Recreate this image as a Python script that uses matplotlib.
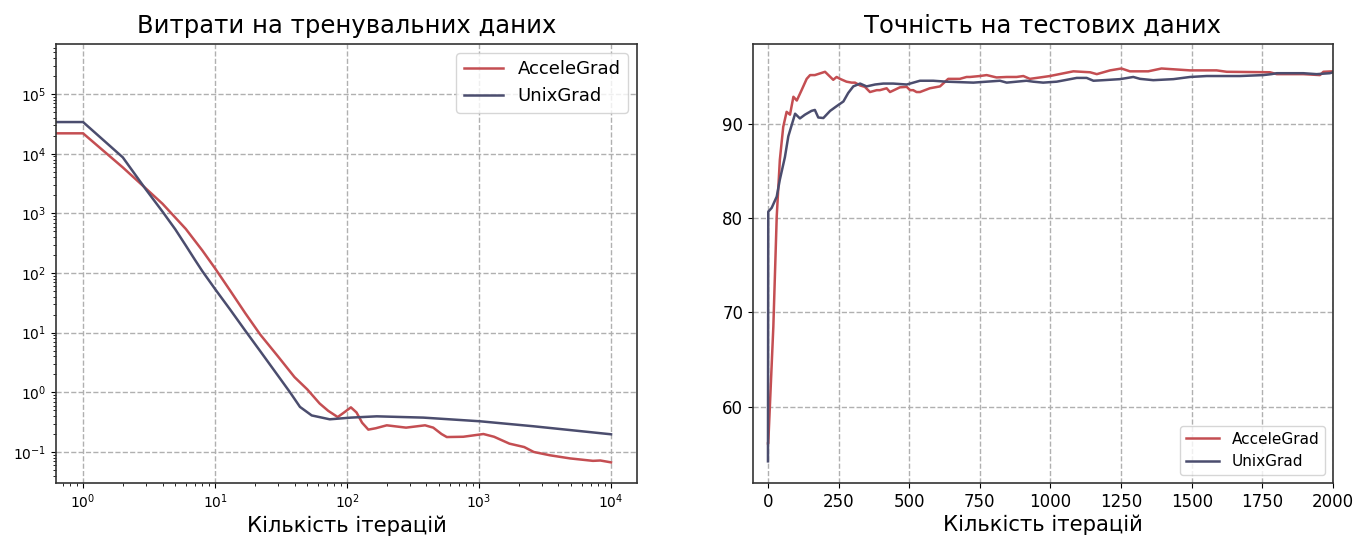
import matplotlib
matplotlib.use("Agg")
import matplotlib.pyplot as plt
from matplotlib.ticker import LogLocator, NullFormatter

plt.rcParams['font.family'] = ['DejaVu Sans']

# ---------------- data ----------------
series_names = ["AcceleGrad", "UnixGrad"]

loss_iter_accele = [0, 1, 2, 3, 4, 5, 6, 8, 10, 13, 17, 22, 30, 40, 50, 62, 72, 85, 95,
                    107, 118, 130, 145, 165, 200, 280, 390, 450, 520, 570, 760, 1080,
                    1300, 1700, 2200, 2600, 3450, 4900, 7300, 8300, 10000]
loss_accele = [2.2e4, 2.2e4, 5.9e3, 2.6e3, 1.45e3, 850, 550, 240, 120, 51, 21, 9.3, 4.0,
               1.8, 1.12, 0.65, 0.49, 0.385, 0.46, 0.56, 0.46, 0.31, 0.237, 0.25, 0.28,
               0.256, 0.28, 0.256, 0.2, 0.178, 0.18, 0.2, 0.18, 0.138, 0.121, 0.1, 0.088,
               0.078, 0.071, 0.072, 0.067]

loss_iter_unix = [0, 1, 2, 3, 4, 5, 6, 7, 8, 10, 13, 17, 22, 30, 37, 44, 54, 74, 107, 168,
                  378, 1020, 2580, 10000]
loss_unix = [3.4e4, 3.4e4, 8.7e3, 2.5e3, 1.07e3, 540, 290, 170, 108, 54, 24.5, 10.7, 4.9,
             1.9, 1.0, 0.57, 0.41, 0.353, 0.377, 0.396, 0.377, 0.327, 0.27, 0.198]

acc_iter_accele = [0, 1, 19, 31, 42, 54, 66, 78, 90, 102, 119, 137, 149, 166, 202, 231, 243,
                   255, 278, 296, 308, 326, 343, 361, 385, 396, 420, 432, 467, 491, 503, 514,
                   526, 538, 573, 609, 638, 679, 703, 715, 750, 774, 809, 845, 880, 904, 927,
                   963, 998, 1081, 1140, 1164, 1211, 1251, 1281, 1346, 1393, 1494, 1588, 1624,
                   1777, 1801, 1895, 1954, 1966, 2000]
acc_accele = [56.1, 56.1, 68.5, 80.2, 86.2, 89.7, 91.3, 91.0, 92.9, 92.5, 93.6, 94.8, 95.2,
              95.2, 95.55, 94.7, 95.0, 94.8, 94.5, 94.4, 94.4, 94.1, 93.95, 93.4, 93.6, 93.6,
              93.8, 93.4, 93.9, 93.95, 93.6, 93.6, 93.4, 93.4, 93.8, 94.0, 94.8, 94.8, 95.0,
              95.0, 95.1, 95.2, 94.95, 95.0, 95.0, 95.1, 94.8, 94.95, 95.1, 95.6, 95.5, 95.3,
              95.7, 95.9, 95.6, 95.6, 95.9, 95.7, 95.7, 95.55, 95.5, 95.3, 95.3, 95.2, 95.55,
              95.6]

acc_iter_unix = [0, 1, 13, 31, 42, 60, 72, 84, 96, 113, 131, 154, 166, 178, 196, 220, 243,
                 267, 284, 302, 326, 349, 379, 408, 443, 491, 503, 538, 585, 632, 727, 821,
                 845, 915, 939, 974, 1022, 1093, 1128, 1152, 1187, 1246, 1293, 1317, 1364,
                 1435, 1494, 1553, 1612, 1671, 1753, 1782, 1801, 1848, 1895, 1942, 1989, 2000]
acc_unix = [54.2, 80.7, 81.1, 82.3, 84.1, 86.5, 88.7, 89.9, 91.1, 90.6, 91.0, 91.4, 91.5,
            90.7, 90.64, 91.4, 91.9, 92.4, 93.3, 94.0, 94.3, 94.0, 94.2, 94.3, 94.3, 94.2,
            94.3, 94.6, 94.6, 94.5, 94.4, 94.6, 94.4, 94.6, 94.5, 94.4, 94.5, 94.9, 94.9,
            94.6, 94.66, 94.77, 95.0, 94.8, 94.66, 94.77, 95.0, 95.1, 95.1, 95.1, 95.2, 95.3,
            95.4, 95.4, 95.4, 95.3, 95.4, 95.5]

titles = ["Витрати на тренувальних даних", "Точність на тестових даних"]
xlabel = "Кількість ітерацій"

colors = ["#c44e52", "#4b4d6e"]

# ---------------- figure ----------------
fig = plt.figure(figsize=(13.61, 5.40), dpi=100)
ax1 = fig.add_axes([56/1361, 57/540, 581/1361, 439/540])
ax2 = fig.add_axes([753/1361, 57/540, 580/1361, 439/540])

grid_kw = dict(color="#b0b0b0", linestyle="--", linewidth=1.0)

# left: loss
ax1.plot(loss_iter_accele, loss_accele, color=colors[0], lw=1.8, label=series_names[0])
ax1.plot(loss_iter_unix, loss_unix, color=colors[1], lw=1.8, label=series_names[1])
ax1.set_xscale("log")
ax1.set_yscale("log")
ax1.set_xlim(10**-0.205, 10**4.197)
ax1.set_ylim(10**-1.52, 10**5.84)
ax1.yaxis.set_major_locator(LogLocator(base=10, numticks=20))
ax1.yaxis.set_minor_locator(LogLocator(base=10, subs=range(2, 10), numticks=20))
ax1.yaxis.set_minor_formatter(NullFormatter())
ax1.grid(True, which="major", **grid_kw)
ax1.set_title(titles[0], fontsize=17.5, pad=8)
ax1.set_xlabel(xlabel, fontsize=15.2, labelpad=3)
ax1.tick_params(labelsize=10)
ax1.legend(loc="upper right", fontsize=13, handlelength=2.2)

# right: accuracy
ax2.plot(acc_iter_accele, acc_accele, color=colors[0], lw=1.8, label=series_names[0])
ax2.plot(acc_iter_unix, acc_unix, color=colors[1], lw=1.8, label=series_names[1])
ax2.set_xlim(-53, 2000)
ax2.set_ylim(51.9, 98.5)
ax2.set_xticks([0, 250, 500, 750, 1000, 1250, 1500, 1750, 2000])
ax2.set_yticks([60, 70, 80, 90])
ax2.grid(True, **grid_kw)
ax2.set_title(titles[1], fontsize=17.5, pad=8)
ax2.set_xlabel(xlabel, fontsize=15.2, labelpad=3)
ax2.tick_params(labelsize=12)
ax2.legend(loc="lower right", fontsize=11, handlelength=2.2)

for ax in (ax1, ax2):
    for s in ax.spines.values():
        s.set_color("#333333")
        s.set_linewidth(1.2)

fig.savefig("out.png", dpi=100)
